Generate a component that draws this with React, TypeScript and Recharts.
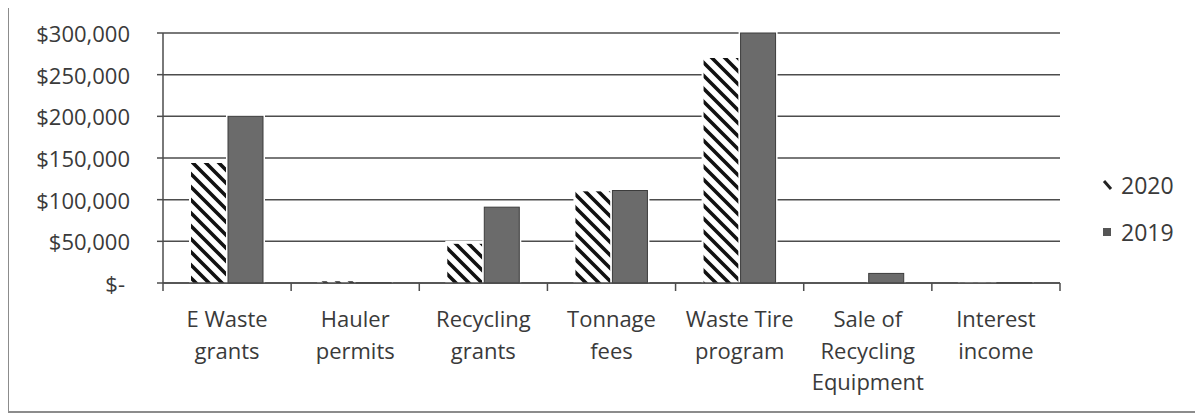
import React from 'react';
import { BarChart, Bar, XAxis, YAxis, CartesianGrid, Legend } from 'recharts';

const categories = [
  'E Waste grants',
  'Hauler permits',
  'Recycling grants',
  'Tonnage fees',
  'Waste Tire program',
  'Sale of Recycling Equipment',
  'Interest income',
];

// how Excel wrapped each category label
const categoryLines = [
  ['E Waste', 'grants'],
  ['Hauler', 'permits'],
  ['Recycling', 'grants'],
  ['Tonnage', 'fees'],
  ['Waste Tire', 'program'],
  ['Sale of', 'Recycling', 'Equipment'],
  ['Interest', 'income'],
];

const values2020 = [144000, 2000, 47000, 110000, 270000, 0, 300];
const values2019 = [200000, 500, 91000, 111000, 300000, 11500, 500];

const yTicks = [0, 50000, 100000, 150000, 200000, 250000, 300000];

const data = categories.map((name, i) => ({
  name,
  idx: i,
  y2020: values2020[i],
  y2019: values2019[i],
}));

const boundaryTicks = [...categories.map((_, i) => i), categories.length];

const FONT = '"Open Sans", "Noto Sans", sans-serif';
const TEXT = '#3a3a3a';
const LINE = '#4d4d4d';

const money = (v: number) => (v === 0 ? '$-' : '$' + v.toLocaleString('en-US'));

const YTick = ({ x, y, payload }: any) => (
  <text
    x={payload.value === 0 ? x - 5 : x}
    y={y}
    dy={9}
    textAnchor="end"
    fill={TEXT}
    fontSize={22}
    fontFamily={FONT}
  >
    {money(payload.value)}
  </text>
);

const XTick = ({ x, y, payload }: any) => {
  const lines = categoryLines[payload.index] || [payload.value];
  return (
    <text x={x} y={y} textAnchor="middle" fill={TEXT} fontSize={22} fontFamily={FONT}>
      {lines.map((ln: string, i: number) => (
        <tspan key={i} x={x} dy={i === 0 ? 43 : 31.5}>
          {ln}
        </tspan>
      ))}
    </text>
  );
};

// boundary axis only needs its tick marks, no labels
const NoLabel = () => <g />;

// bars sit on a white halo that cuts the gridlines, like the Excel original
const makeShape = (fill: string, stroke: string, sw: number) => (props: any) => {
  const { x, y, width, height } = props;
  if (!height || height <= 0) return <g />;
  return (
    <g>
      <rect x={x - 2} y={y - 3} width={width + 4} height={height + 3} fill="#ffffff" />
      <rect x={x} y={y} width={width} height={height} fill={fill} stroke={stroke} strokeWidth={sw} />
    </g>
  );
};

const LegendBox = () => (
  <div style={{ fontFamily: FONT, fontSize: 23, color: TEXT }}>
    <div style={{ display: 'flex', alignItems: 'center', height: 47 }}>
      <svg width={20} height={14}>
        <line x1={3} y1={3} x2={10} y2={11} stroke="#222" strokeWidth={3} />
      </svg>
      <span>2020</span>
    </div>
    <div style={{ display: 'flex', alignItems: 'center', height: 47 }}>
      <svg width={20} height={14}>
        <rect x={2} y={3} width={8} height={8} fill="#555" />
      </svg>
      <span>2019</span>
    </div>
  </div>
);

export default function App() {
  return (
    <div
      style={{
        marginTop: -5,
        marginLeft: -1,
        width: 1194,
        height: 406,
        borderTop: '2px solid #8c8c8c',
        borderLeft: '2px solid #8c8c8c',
        borderBottom: '2px solid #8c8c8c',
        background: '#fff',
      }}
    >
      <BarChart
        width={1194}
        height={406}
        data={data}
        margin={{ top: 28, right: 143, left: 0, bottom: 0 }}
        barSize={35}
        barGap={2}
      >
        <defs>
          <pattern id="hatch" patternUnits="userSpaceOnUse" width={13} height={13}>
            <rect width={13} height={13} fill="#ffffff" />
            <path d="M-3,10 L3,16 M0,0 L13,13 M10,-3 L16,3" stroke="#111" strokeWidth={3.6} />
          </pattern>
        </defs>
        <CartesianGrid vertical={false} stroke={LINE} strokeWidth={1.5} />
        <XAxis
          xAxisId="bounds"
          dataKey="idx"
          type="number"
          domain={[0, categories.length]}
          ticks={boundaryTicks}
          interval={0}
          height={1}
          tickSize={8}
          tick={<NoLabel />}
          axisLine={{ stroke: LINE, strokeWidth: 1.5 }}
          tickLine={{ stroke: LINE, strokeWidth: 1.5 }}
        />
        <XAxis
          xAxisId="cat"
          dataKey="name"
          interval={0}
          height={127}
          tickSize={0}
          tickMargin={0}
          axisLine={false}
          tickLine={false}
          tick={<XTick />}
        />
        <YAxis
          width={154}
          domain={[0, 300000]}
          ticks={yTicks}
          tickSize={6}
          tickMargin={27}
          axisLine={{ stroke: LINE, strokeWidth: 1.5 }}
          tickLine={{ stroke: LINE, strokeWidth: 1.5 }}
          tick={<YTick />}
        />
        <Legend
          layout="vertical"
          align="center"
          verticalAlign="middle"
          wrapperStyle={{ left: 1092, top: 156, width: 110 }}
          content={<LegendBox />}
        />
        <Bar
          xAxisId="cat"
          dataKey="y2020"
          name="2020"
          fill="url(#hatch)"
          shape={makeShape('url(#hatch)', 'none', 0)}
          isAnimationActive={false}
        />
        <Bar
          xAxisId="cat"
          dataKey="y2019"
          name="2019"
          fill="#6b6b6b"
          shape={makeShape('#6b6b6b', '#3c3c3c', 1)}
          isAnimationActive={false}
        />
      </BarChart>
    </div>
  );
}
